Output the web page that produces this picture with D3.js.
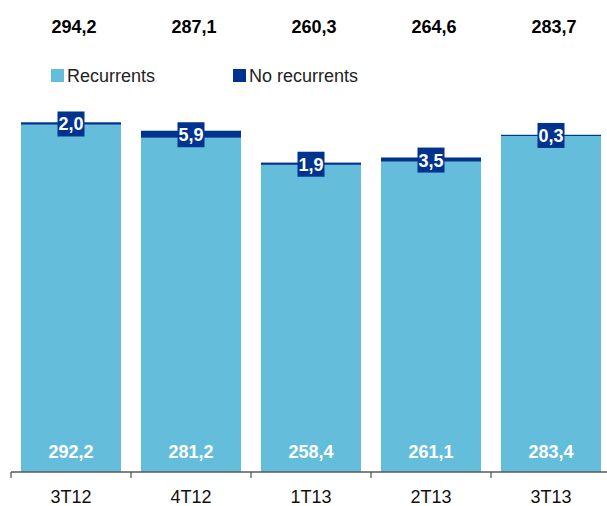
<!DOCTYPE html>
<html>
<head>
<meta charset="utf-8">
<script src="https://cdn.jsdelivr.net/npm/d3@7"></script>
<style>
  html, body { margin: 0; padding: 0; background: #fff; }
  svg { display: block; font-family: "Liberation Sans", Arial, sans-serif; }
</style>
</head>
<body>
<svg id="chart" width="607" height="506"></svg>
<script>
// data
const categories = ["3T12", "4T12", "1T13", "2T13", "3T13"]
const recurrents = [292.2, 281.2, 258.4, 261.1, 283.4]
const noRecurrents = [2.0, 5.9, 1.9, 3.5, 0.3]
const seriesNames = ["Recurrents", "No recurrents"]

const lightBlue = "#64bddb"
const darkBlue = "#00338f"

const width = 607, height = 506

const svg = d3.select("#chart")

const fmt = d3.formatLocale({ decimal: ",", thousands: ".", grouping: [3], currency: ["", "€"] }).format(".1f")

const rows = categories.map((c, i) => ({
    cat: c,
    rec: recurrents[i],
    non: noRecurrents[i],
    total: recurrents[i] + noRecurrents[i]
}))

//scales
const x = d3.scaleBand()
    .domain(categories)
    .range([11, 611])
    .paddingInner(1 / 6)
    .paddingOuter(1 / 12)

const y = d3.scaleLinear()
    .domain([0, 300])
    .range([472, 115.4])

//totals on top
svg.append("g").selectAll("text")
    .data(rows).enter().append("text")
    .attr("x", d => x(d.cat) + x.bandwidth() / 2 + 3)
    .attr("y", 33)
    .attr("text-anchor", "middle")
    .attr("font-size", 18)
    .attr("font-weight", "bold")
    .attr("fill", "#000")
    .text(d => fmt(d.total))

//legend
const legend = svg.append("g")
const legendItems = [
    { name: seriesNames[0], colour: lightBlue, x: 51 },
    { name: seriesNames[1], colour: darkBlue, x: 233 }
]
legendItems.forEach(it => {
    legend.append("rect")
        .attr("x", it.x).attr("y", 69)
        .attr("width", 13).attr("height", 13)
        .attr("fill", it.colour)
    legend.append("text")
        .attr("x", it.x + 16).attr("y", 82)
        .attr("font-size", 18)
        .attr("fill", "#222")
        .text(it.name)
})

//bars
const bars = svg.append("g")

bars.selectAll("rect.rec")
    .data(rows).enter().append("rect")
    .attr("class", "rec")
    .attr("x", d => x(d.cat))
    .attr("width", x.bandwidth())
    .attr("y", d => y(d.rec))
    .attr("height", d => y(0) - y(d.rec))
    .attr("fill", lightBlue)

bars.selectAll("rect.non")
    .data(rows).enter().append("rect")
    .attr("class", "non")
    .attr("x", d => x(d.cat))
    .attr("width", x.bandwidth())
    .attr("y", d => y(d.total))
    .attr("height", d => Math.max(1.2, y(d.rec) - y(d.total)))
    .attr("fill", darkBlue)

//recurrent value labels
svg.append("g").selectAll("text")
    .data(rows).enter().append("text")
    .attr("x", d => x(d.cat) + x.bandwidth() / 2)
    .attr("y", 458)
    .attr("text-anchor", "middle")
    .attr("font-size", 18)
    .attr("font-weight", "bold")
    .attr("fill", "#fff")
    .text(d => fmt(d.rec))

//no recurrent labels in dark boxes
const boxW = 27, boxH = 25
const nonLabels = svg.append("g").selectAll("g")
    .data(rows).enter().append("g")
    .attr("transform", d => `translate(${x(d.cat) + x.bandwidth() / 2}, ${(y(d.rec) + y(d.total)) / 2 + 0.5})`)

nonLabels.append("rect")
    .attr("x", -boxW / 2).attr("y", -boxH / 2)
    .attr("width", boxW).attr("height", boxH)
    .attr("fill", darkBlue)

nonLabels.append("text")
    .attr("text-anchor", "middle")
    .attr("dy", 6.5)
    .attr("font-size", 18)
    .attr("font-weight", "bold")
    .attr("fill", "#fff")
    .text(d => fmt(d.non))

//x axis
const axis = svg.append("g").attr("stroke", "#595959").attr("stroke-width", 1.3)
axis.append("line")
    .attr("x1", x.range()[0]).attr("x2", x.range()[1])
    .attr("y1", y(0)).attr("y2", y(0))

const tickXs = categories.map(c => x(c) - x.step() * x.paddingInner() / 2)
tickXs.push(x.range()[1])
axis.selectAll("line.tick")
    .data(tickXs).enter().append("line")
    .attr("class", "tick")
    .attr("x1", d => d).attr("x2", d => d)
    .attr("y1", y(0)).attr("y2", y(0) + 6)

svg.append("g").selectAll("text")
    .data(categories).enter().append("text")
    .attr("x", d => x(d) + x.bandwidth() / 2)
    .attr("y", 503)
    .attr("text-anchor", "middle")
    .attr("font-size", 18)
    .attr("fill", "#111")
    .text(d => d)
</script>
</body>
</html>
